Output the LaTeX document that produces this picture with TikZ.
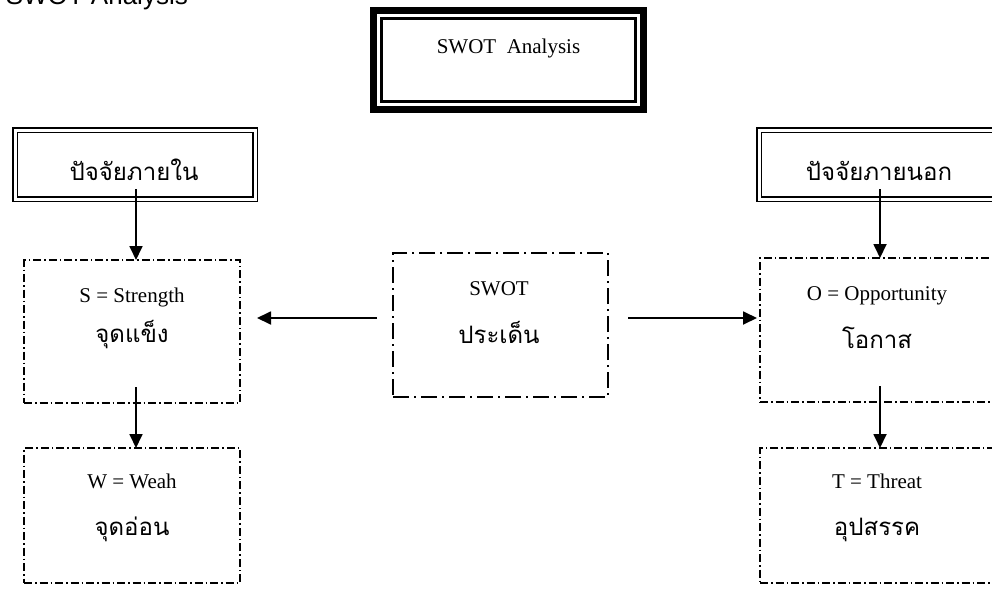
\documentclass[tikz,border=0pt]{standalone}
\usepackage{fontspec}
\setmainfont{Liberation Serif}
\newfontfamily\thaifont[Script=Thai]{Loma}
\newfontfamily\headfont{Liberation Sans}
\usetikzlibrary{arrows.meta,calc,positioning}
\newcommand{\thtext}[1]{{\thaifont\fontsize{24}{28}\selectfont #1}}

\begin{document}
\begin{tikzpicture}[x=1pt,y=-1pt,>={Triangle[length=14pt,width=13pt]},
  en/.style={font=\fontsize{21}{24}\selectfont,anchor=base,inner sep=0pt},
  tt/.style={anchor=base,inner sep=0pt},
  dd/.style={draw,line width=1.4pt,dash pattern=on 8pt off 3pt on 1.5pt off 3pt,inner sep=0pt,outer sep=0pt},
  ddbig/.style={draw,line width=2pt,dash pattern=on 16pt off 5pt on 2pt off 5pt,inner sep=0pt,outer sep=0pt},
  dbl/.style={draw,line width=1.3pt,double,double distance=3pt,inner sep=0pt,outer sep=0pt,
    minimum width=240pt,minimum height=69pt},
  arr/.style={->,line width=1.8pt}]
\useasboundingbox (0,0) rectangle (992,594);
\fill[white] (0,0) rectangle (992,594);
% clipped heading
\node[anchor=base east,inner sep=0pt,font=\headfont\fontsize{26}{30}\selectfont] (head) at (188,5) {SWOT Analysis};
% title box
\node[draw,line width=7pt,inner sep=0pt,outer sep=0pt,minimum width=270pt,minimum height=99pt] (title) at (508.5,60) {};
\draw[line width=2.2pt] ($(title.north west)+(8,8)$) rectangle ($(title.south east)+(-8,-8)$);
\node[en] (titletxt) at (508.5,53) {SWOT\ \ Analysis};
% inside / outside factors
\node[dbl] (inbox) at (135,164.5) {};
\node[tt] (intxt) at (134,180) {\thtext{ปัจจัยภายใน}};
\node[dbl] (outbox) at (879,164.5) {};
\node[tt] (outtxt) at (879,180) {\thtext{ปัจจัยภายนอก}};
% left column
\node[dd,minimum width=216pt,minimum height=143pt] (sbox) at (132,331.5) {};
\node[en] (stxt) at (132,302) {S = Strength};
\node[tt] (sth) at (132,342) {\thtext{จุดแข็ง}};
\node[dd,minimum width=216pt,minimum height=135pt] (wbox) at (132,515.5) {};
\node[en] (wtxt) at (132,488) {W = Weah};
\node[tt] (wth) at (132,535) {\thtext{จุดอ่อน}};
% centre
\node[ddbig,minimum width=215pt,minimum height=144pt] (swot) at (500.5,325) {};
\node[en] (swottxt) at (499,295) {SWOT};
\node[tt] (swotth) at (499,343) {\thtext{ประเด็น}};
% right column
\node[dd,minimum width=236pt,minimum height=144pt] (obox) at (878,330) {};
\node[en] (otxt) at (877,300) {O = Opportunity};
\node[tt] (oth) at (877,348) {\thtext{โอกาส}};
\node[dd,minimum width=236pt,minimum height=135pt] (tbox) at (878,515.5) {};
\node[en] (ttxt) at (877,488) {T = Threat};
\node[tt] (tth) at (877,535) {\thtext{อุปสรรค}};
% arrows
\coordinate (ina) at ([xshift=1pt,yshift=10pt]inbox.south);
\draw[arr] (ina) -- (ina |- sbox.north);
\coordinate (sa) at (ina |- sbox.south);
\draw[arr] ([yshift=16pt]sa) -- (sa |- wbox.north);
\coordinate (outa) at ([xshift=1pt,yshift=10pt]outbox.south);
\draw[arr] (outa) -- (outa |- obox.north);
\coordinate (oa) at (outa |- obox.south);
\draw[arr] ([yshift=16pt]oa) -- (oa |- tbox.north);
\coordinate (la) at ([shift={(-16pt,7pt)}]swot.west);
\draw[arr,shorten >=17pt] (la) -- (la -| sbox.east);
\coordinate (ra) at ([shift={(20pt,7pt)}]swot.east);
\draw[arr,shorten >=3pt] (ra) -- (ra -| obox.west);
\end{tikzpicture}
\end{document}
